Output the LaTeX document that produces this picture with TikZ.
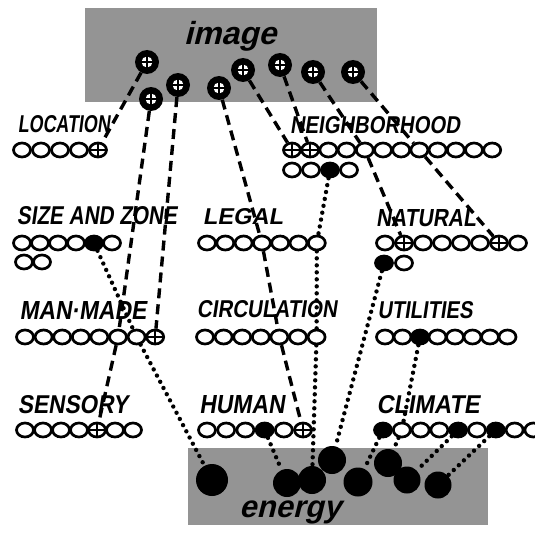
\documentclass[tikz,border=0pt]{standalone}
\usepackage{fontspec}
\setmainfont{Liberation Sans}
\newfontfamily\handfont[FakeSlant=0.18]{Liberation Sans Bold}
\newfontfamily\titlefont[FakeSlant=0.25]{Liberation Sans Bold}
\usetikzlibrary{shapes.geometric}
\newcommand\lbl[3]{\resizebox{#1pt}{#2pt}{\handfont #3}}
\newcommand\crow[5]{\foreach \t [count=\i] in {#5} \node[\t] (#1\i) at ({#2+(\i-1)*#3},#4) {};}
\tikzset{
  oc/.style={ellipse, draw, line width=2.7pt, minimum width=17pt, minimum height=14pt, inner sep=0pt},
  fc/.style={oc, fill=black},
  pc/.style={oc, path picture={\draw[line width=2pt] (path picture bounding box.north) -- (path picture bounding box.south) (path picture bounding box.west) -- (path picture bounding box.east);}},
  imgc/.style={circle, fill=black, minimum size=24pt, inner sep=0pt,
    path picture={\fill[white] (path picture bounding box.center) circle (5.5pt);
      \draw[black, line width=2.2pt] ([yshift=-7pt]path picture bounding box.center) -- ([yshift=7pt]path picture bounding box.center)
        ([xshift=-7pt]path picture bounding box.center) -- ([xshift=7pt]path picture bounding box.center);}},
  enb/.style={circle, fill=black, minimum size=#1, inner sep=0pt},
  dl/.style={line width=3.4pt, dash pattern=on 10pt off 6pt},
  dt/.style={line width=4.4pt, line cap=round, dash pattern=on 0pt off 7pt},
  lab/.style={inner sep=0pt},
  halftone/.style={fill=black!42}
}
\begin{document}
\begin{tikzpicture}[x=1pt,y=-1pt]
\useasboundingbox[fill=white] (0,0) rectangle (535,535);
% boxes
\fill[halftone] (85,8) rectangle (377,102);
\fill[halftone] (188,448) rectangle (488,525);
\node[lab] (imgtxt) at (230,36) {\titlefont\fontsize{32}{32}\selectfont image};
\node[lab] (entxt) at (290,512) {\titlefont\fontsize{31}{31}\selectfont energy};
% image circles
\node[imgc] (img1) at (147,62) {};
\node[imgc] (img2) at (151,99) {};
\node[imgc] (img3) at (178,85) {};
\node[imgc] (img4) at (219,88) {};
\node[imgc] (img5) at (243,70) {};
\node[imgc] (img6) at (280,65) {};
\node[imgc] (img7) at (313,72) {};
\node[imgc] (img8) at (353,72) {};
% energy blobs
\node[enb=32pt] (en1) at (212,480) {};
\node[enb=28pt] (en2) at (287,483) {};
\node[enb=28pt] (en3) at (312,480) {};
\node[enb=28pt] (en4) at (332,460) {};
\node[enb=29pt] (en5) at (358,482) {};
\node[enb=28pt] (en6) at (388,463) {};
\node[enb=27pt] (en7) at (407,480) {};
\node[enb=27pt] (en8) at (438,485) {};
% labels
\node[lab] (tloc) at (64,124) {\lbl{92}{17}{LOCATION}};
\node[lab] (tnb) at (375,125) {\lbl{170}{17}{NEIGHBORHOOD}};
\node[lab] (tsz) at (97,216) {\lbl{160}{18}{SIZE AND ZONE}};
\node[lab] (tleg) at (243,217) {\lbl{80}{16}{LEGAL}};
\node[lab] (tnat) at (426,218) {\lbl{100}{17}{NATURAL}};
\node[lab] (tmm) at (83,310) {\lbl{127}{18}{MAN·MADE}};
\node[lab] (tcirc) at (267,309) {\lbl{140}{17}{CIRCULATION}};
\node[lab] (tut) at (425,310) {\lbl{95}{17}{UTILITIES}};
\node[lab] (tsen) at (73,405) {\lbl{110}{18}{SENSORY}};
\node[lab] (thum) at (242,405) {\lbl{85}{18}{HUMAN}};
\node[lab] (tcli) at (428,405) {\lbl{103}{18}{CLIMATE}};
% circle rows
\crow{loc}{22}{19}{150}{oc,oc,oc,oc,pc}
\crow{nb}{292}{18.2}{150}{pc,pc,oc,oc,oc,oc,oc,oc,oc,oc,oc,oc}
\crow{nbb}{292}{19}{170}{oc,oc,fc,oc}
\crow{sz}{22}{18}{243}{oc,oc,oc,oc,fc,oc}
\crow{szb}{24}{18}{262}{oc,oc}
\crow{leg}{207}{18.3}{243}{oc,oc,oc,oc,oc,oc,oc}
\crow{nat}{385}{19}{243}{oc,pc,oc,oc,oc,oc,pc,oc}
\crow{natb}{384}{20}{263}{fc,oc}
\crow{mm}{25}{18.6}{337}{oc,oc,oc,oc,oc,oc,oc,pc}
\crow{circ}{205}{18.6}{337}{oc,oc,oc,oc,oc,oc,oc}
\crow{ut}{385}{17.5}{337}{oc,oc,fc,oc,oc,oc,oc,oc}
\crow{sen}{25}{18}{430}{oc,oc,oc,oc,pc,oc,oc}
\crow{hum}{207}{19.2}{430}{oc,oc,oc,fc,oc,pc}
\crow{cli}{383}{18.8}{430}{fc,oc,oc,oc,fc,oc,fc,oc,oc}
% dashed connectors (image)
\draw[dl] (img1) -- (loc5);
\draw[dl] (img2) -- (mm6) -- (sen5);
\draw[dl] (img3) -- (mm8);
\draw[dl] (img4) -- (leg4) -- (circ5) -- (hum6);
\draw[dl] (img5) -- (nb1);
\draw[dl] (img6) -- (nb2);
\draw[dl] (img7) -- (nb5) -- (nat2);
\draw[dl] (img8) -- (nb8) -- (nat7);
% dotted connectors (energy)
\draw[dt] (nbb3) -- (leg7) -- (circ7) -- (en3);
\draw[dt] (sz5) -- (mm7) -- (en1);
\draw[dt] (hum4) -- (en2);
\draw[dt] (natb1) -- (en4);
\draw[dt] (cli1) -- (en5);
\draw[dt] (ut3) -- (cli2) -- (en6);
\draw[dt] (cli5) -- (en7);
\draw[dt] (cli7) -- (en8);
\end{tikzpicture}
\end{document}
